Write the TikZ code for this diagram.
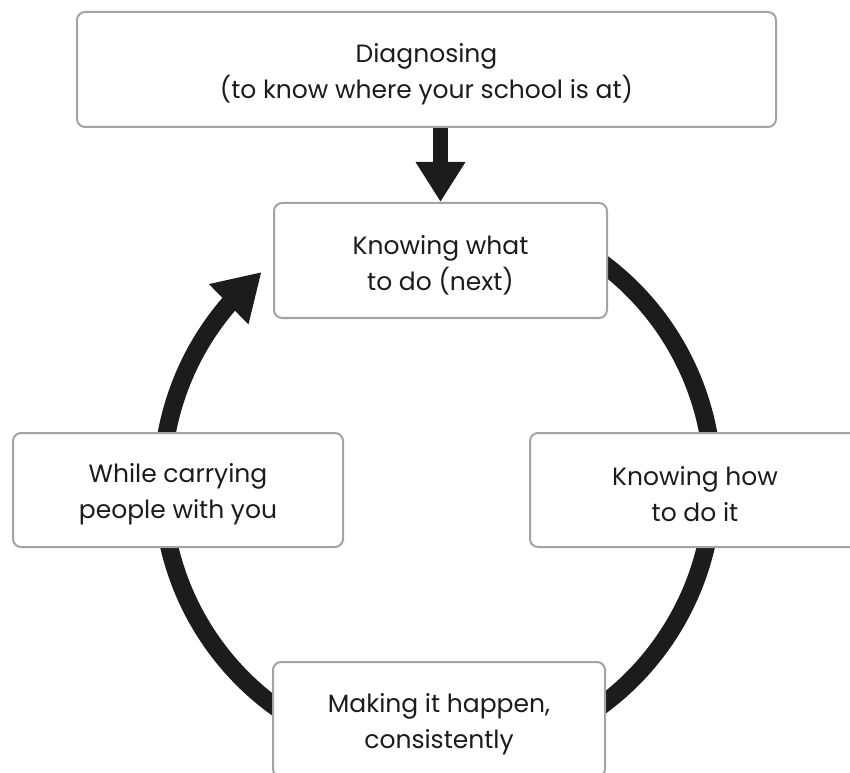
\documentclass[tikz,border=0pt]{standalone}
\usepackage{fontspec}
\setmainfont{Poppins}
\usetikzlibrary{arrows.meta,bending,backgrounds}
\definecolor{ink}{HTML}{1C1C1C}
\definecolor{edge}{HTML}{A3A3A3}
\newcommand\toplift{\rule{0pt}{28pt}}
\begin{document}
\begin{tikzpicture}[x=1pt,y=1pt,
  box/.style={draw=edge, line width=2pt, rounded corners=8pt, fill=white,
    text=ink, align=center, font=\fontsize{25}{36}\selectfont, inner sep=0pt},
  ring/.style={draw=ink, line width=18pt},
  downarrow/.style={draw=ink, fill=ink, line width=15pt,
    -{Triangle[length=40pt,width=47pt]}},
  ]
\useasboundingbox (0,0) rectangle (850,772);
\node[box, minimum width=699pt, minimum height=115pt] (diag) at (426.5,702.5)
  {\toplift Diagnosing\\(to know where your school is at)};
\node[box, minimum width=333pt, minimum height=115pt] (what) at (440.5,511.5)
  {\toplift Knowing what\\to do (next)};
\node[box, minimum width=330pt, minimum height=114pt] (carry) at (178,282)
  {\toplift While carrying\\people with you};
\node[box, minimum width=330pt, minimum height=114pt] (how) at (695,282)
  {\toplift Knowing how\\to do it};
\node[box, minimum width=332pt, minimum height=115pt] (make) at (439,52.5)
  {\toplift Making it happen,\\consistently};
\begin{scope}[on background layer]
  \coordinate (rc) at (437.5,288);
  \draw[ring, -{Triangle[length=46pt,width=53pt,flex]}]
    (rc) ++(60:275.5) arc[start angle=60, end angle=-230.3, radius=275.5];
\end{scope}
\draw[downarrow] (what.north |- diag.south) -- (what.north);
\end{tikzpicture}
\end{document}
